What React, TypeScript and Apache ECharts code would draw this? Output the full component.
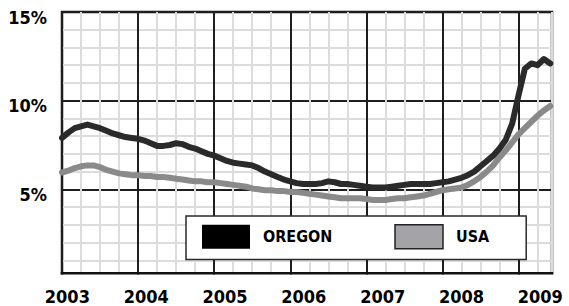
import React, { useEffect, useRef } from "react";
import * as echarts from "echarts";

const startYear = 2003;
const yearLabels = [2003, 2004, 2005, 2006, 2007, 2008, 2009];
const yTickLabels = [5, 10, 15];
const seriesNames = ["OREGON", "USA"];

// monthly unemployment rate, Jan 2003 .. Jun 2009
const oregon = [
  7.9, 8.2, 8.45, 8.55, 8.65, 8.55, 8.45, 8.3, 8.15, 8.05, 7.95, 7.9,
  7.85, 7.75, 7.6, 7.45, 7.45, 7.5, 7.6, 7.55, 7.4, 7.3, 7.15, 7.0,
  6.9, 6.75, 6.6, 6.5, 6.45, 6.4, 6.35, 6.2, 6.0, 5.85, 5.7, 5.55,
  5.45, 5.35, 5.3, 5.3, 5.3, 5.35, 5.45, 5.4, 5.3, 5.3, 5.25, 5.2,
  5.15, 5.1, 5.1, 5.1, 5.15, 5.2, 5.25, 5.3, 5.3, 5.3, 5.3, 5.35,
  5.4, 5.45, 5.55, 5.65, 5.8, 6.0, 6.3, 6.6, 6.9, 7.3, 7.8, 8.7,
  10.3, 11.8, 12.1, 12.0, 12.35, 12.1,
];
const usa = [
  5.95, 6.05, 6.2, 6.3, 6.35, 6.35, 6.25, 6.1, 6.0, 5.9, 5.85, 5.8,
  5.8, 5.75, 5.75, 5.7, 5.7, 5.65, 5.6, 5.55, 5.5, 5.45, 5.45, 5.4,
  5.4, 5.35, 5.3, 5.25, 5.2, 5.15, 5.05, 5.0, 4.95, 4.95, 4.9, 4.9,
  4.85, 4.85, 4.8, 4.75, 4.7, 4.65, 4.6, 4.55, 4.5, 4.5, 4.5, 4.5,
  4.45, 4.4, 4.4, 4.4, 4.45, 4.5, 4.5, 4.55, 4.6, 4.65, 4.75, 4.85,
  4.95, 5.0, 5.05, 5.1, 5.25, 5.45, 5.7, 6.0, 6.35, 6.8, 7.2, 7.65,
  8.1, 8.45, 8.8, 9.15, 9.45, 9.7,
];

const FONT = '"Liberation Sans Narrow", "DejaVu Sans Condensed", "Arial Narrow", sans-serif';

export default function App() {
  const ref = useRef<HTMLDivElement>(null);
  useEffect(() => {
    document.body.style.margin = "0";
    if (!ref.current) return;
    const chart = echarts.init(ref.current, undefined, { renderer: "svg" });
    const toPts = (arr: number[]) => arr.map((v, i) => [startYear + i / 12, v]);
    const dark = "#1e1e1e";
    const light = "#dcdcdc";
    const labelFont = {
      fontFamily: FONT,
      fontWeight: "bold",
      fontSize: 18,
      color: "#000",
    };
    chart.setOption({
      animation: false,
      backgroundColor: "#fff",
      grid: {
        left: 62,
        right: 17,
        top: 12,
        bottom: 28,
        show: true,
        borderColor: "#111",
        borderWidth: 2.5,
        backgroundColor: "transparent",
      },
      xAxis: [
        {
          type: "value",
          min: 2003,
          max: 2009.44,
          interval: 0.25,
          axisLine: { show: false },
          axisTick: { show: false },
          axisLabel: { show: false },
          splitLine: {
            show: true,
            lineStyle: { color: [dark, light, light, light], width: 2 },
          },
        },
        {
          type: "value",
          position: "bottom",
          min: 2002.932,
          max: 2009.148,
          axisLine: { show: false },
          axisTick: { show: false },
          splitLine: { show: false },
          axisLabel: {
            customValues: yearLabels,
            formatter: (v: number) => String(v),
            ...labelFont,
            margin: 9,
          },
        },
      ],
      yAxis: {
        type: "value",
        min: 0,
        max: 15,
        interval: 1,
        axisLine: { show: false },
        axisTick: { show: false },
        axisLabel: {
          customValues: yTickLabels,
          formatter: (v: number) => "{p|" + v + "%}",
          margin: 15,
          rich: {
            p: { ...labelFont, padding: [10, 0, 0, 0] },
          },
        },
        splitLine: {
          show: true,
          lineStyle: { color: [dark, light, light, light, light], width: 2 },
        },
      },
      legend: {
        left: 186,
        top: 216,
        orient: "horizontal",
        icon: "rect",
        itemWidth: 48,
        itemHeight: 24,
        itemGap: 62,
        padding: [8, 37, 10, 16],
        backgroundColor: "#fff",
        borderColor: "#2a2a2a",
        borderWidth: 1.5,
        textStyle: {
          fontFamily: FONT,
          fontWeight: "bold",
          fontSize: 16,
          color: "#000",
          padding: [0, 0, 0, 8],
        },
        data: [
          { name: seriesNames[0], itemStyle: { color: "#000", borderWidth: 0 } },
          {
            name: seriesNames[1],
            itemStyle: { color: "#a3a3a8", borderColor: "#222", borderWidth: 1.5 },
          },
        ],
      },
      graphic: [
        {
          type: "rect",
          z: 100,
          silent: true,
          shape: { x: 50, y: 274.5, width: 519, height: 6 },
          style: { fill: "#fff" },
        },
        {
          type: "line",
          z: 101,
          silent: true,
          shape: { x1: 60.75, y1: 273.25, x2: 553.25, y2: 273.25 },
          style: { stroke: "#111", lineWidth: 2.5 },
        },
      ],
      series: [
        {
          name: seriesNames[1],
          type: "line",
          xAxisIndex: 0,
          data: toPts(usa),
          showSymbol: false,
          symbol: "none",
          lineStyle: { color: "#8a8a8a", width: 6, cap: "round", join: "round" },
          itemStyle: { color: "#8a8a8a" },
          z: 3,
        },
        {
          name: seriesNames[0],
          type: "line",
          xAxisIndex: 0,
          data: toPts(oregon),
          showSymbol: false,
          symbol: "none",
          lineStyle: { color: "#2a2a2a", width: 6, cap: "round", join: "round" },
          itemStyle: { color: "#2a2a2a" },
          z: 4,
        },
      ],
    });
    return () => chart.dispose();
  }, []);
  return <div ref={ref} style={{ width: 569, height: 306 }} />;
}
